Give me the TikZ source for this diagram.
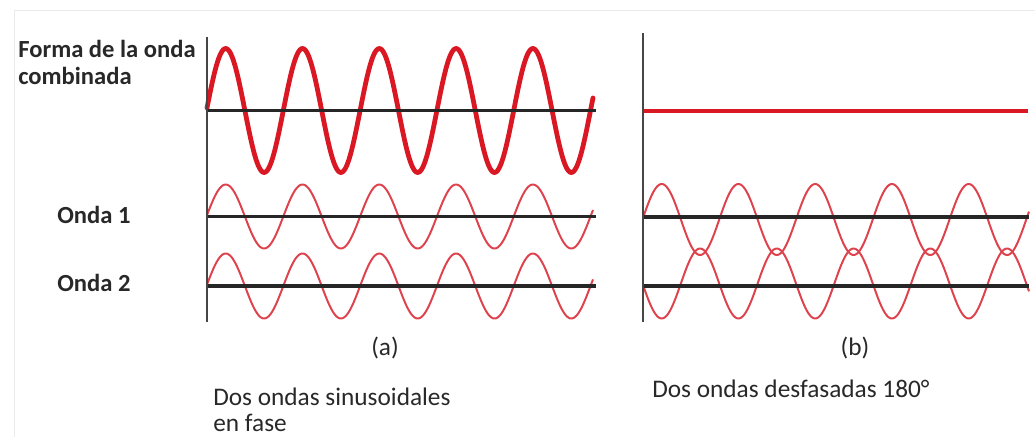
\documentclass[tikz,border=0pt]{standalone}
\usepackage{fontspec}
\setmainfont{Carlito}
\usetikzlibrary{positioning}
\definecolor{wavered}{RGB}{218,24,36}
\definecolor{thinred}{RGB}{222,66,76}
\definecolor{axisgray}{RGB}{70,70,70}
\definecolor{lbltext}{RGB}{40,40,40}

\begin{document}
\begin{tikzpicture}[x=0.025cm, y=-0.025cm,
	lbl/.style={font=\fontsize{17.5}{19}\selectfont\bfseries, text=lbltext, inner sep=0pt, anchor=base west},
	captxt/.style={font=\fontsize{18}{20}\selectfont, text=lbltext, inner sep=0pt, anchor=base west},
	yaxis/.style={axisgray, line width=1.2pt},
	xaxis/.style={black!85, line width=2.4pt},
	thickwave/.style={wavered, line width=3.4pt, line cap=round, line join=round},
	thinwave/.style={thinred, line width=1.4pt, line join=round}]
	\useasboundingbox (0,0) rectangle (1035,437);
	\draw[black!8, line width=0.6pt] (14,437) -- (14,10) -- (1035,10);

	\node[lbl] (forma) at (18,57) {Forma de la onda};
	\node[lbl] (comb) at (18,84) {combinada};
	\node[lbl] (onda1) at (57,223) {Onda 1};
	\node[lbl] (onda2) at (57,291) {Onda 2};

	\coordinate (atop) at (207,37);
	\coordinate (abot) at (207,322);
	\coordinate (btop) at (643,33);
	\coordinate (bbot) at (643,322);

	\draw[thickwave] plot[domain=207:593, samples=300] (\x, {110.5-62*sin((\x-206.5)/76.8*360)});
	\draw[thinwave] plot[domain=207:593, samples=300] (\x, {216.5-32*sin((\x-206.5)/76.8*360)});
	\draw[thinwave] plot[domain=207:593, samples=300] (\x, {286-32.5*sin((\x-206.5)/76.8*360)});
	\draw[black!85, line width=1.5pt] (atop |- 0,110.5) -- (596,110.5);
	\draw[xaxis] (atop |- 0,216.5) -- (596,216.5);
	\draw[xaxis] (atop |- 0,286) -- (596,286);
	\draw[yaxis] (atop) -- (abot);

	\draw[wavered, line width=3.4pt] (btop |- 0,111) -- (1028,111);
	\draw[thinwave] plot[domain=643:1029, samples=300] (\x, {219.5-35.5*sin((\x-642.5)/76.75*360)});
	\draw[thinwave] plot[domain=643:1029, samples=300] (\x, {283.5+35*sin((\x-642.5)/76.75*360)});
	\draw[xaxis] (btop |- 0,217) -- (1029,217);
	\draw[xaxis] (btop |- 0,286) -- (1029,286);
	\draw[yaxis] (btop) -- (bbot);

	\node[captxt, anchor=base] (capa) at (385,355) {(a)};
	\node[captxt, anchor=base] (capb) at (855,355) {(b)};
	\node[captxt] (fasea) at (213,405) {Dos ondas sinusoidales};
	\node[captxt] (faseb) at (213,431) {en fase};
	\node[captxt] (desf) at (652,397) {Dos ondas desfasadas 180°};
\end{tikzpicture}
\end{document}
